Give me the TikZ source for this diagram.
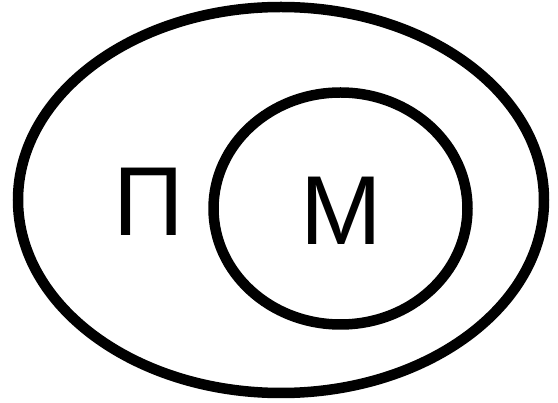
\documentclass[tikz,border=0pt]{standalone}
\usepackage{fontspec}
\setmainfont{Liberation Sans}
\begin{document}
\begin{tikzpicture}[x=1pt,y=-1pt,
  ring/.style={line width=10.5pt, draw=black},
  lbl/.style={inner sep=0pt, anchor=base, font=\fontsize{98}{100}\selectfont}]
\useasboundingbox (0,0) rectangle (558,403);
\draw[ring] (281,200) ellipse [x radius=263, y radius=193];
\draw[ring] (340.5,208.5) ellipse [x radius=127, y radius=116];
\node[lbl] (p) at (148.5,236) {П};
\node[lbl] (m) at (341.5,245) {М};
\end{tikzpicture}
\end{document}
